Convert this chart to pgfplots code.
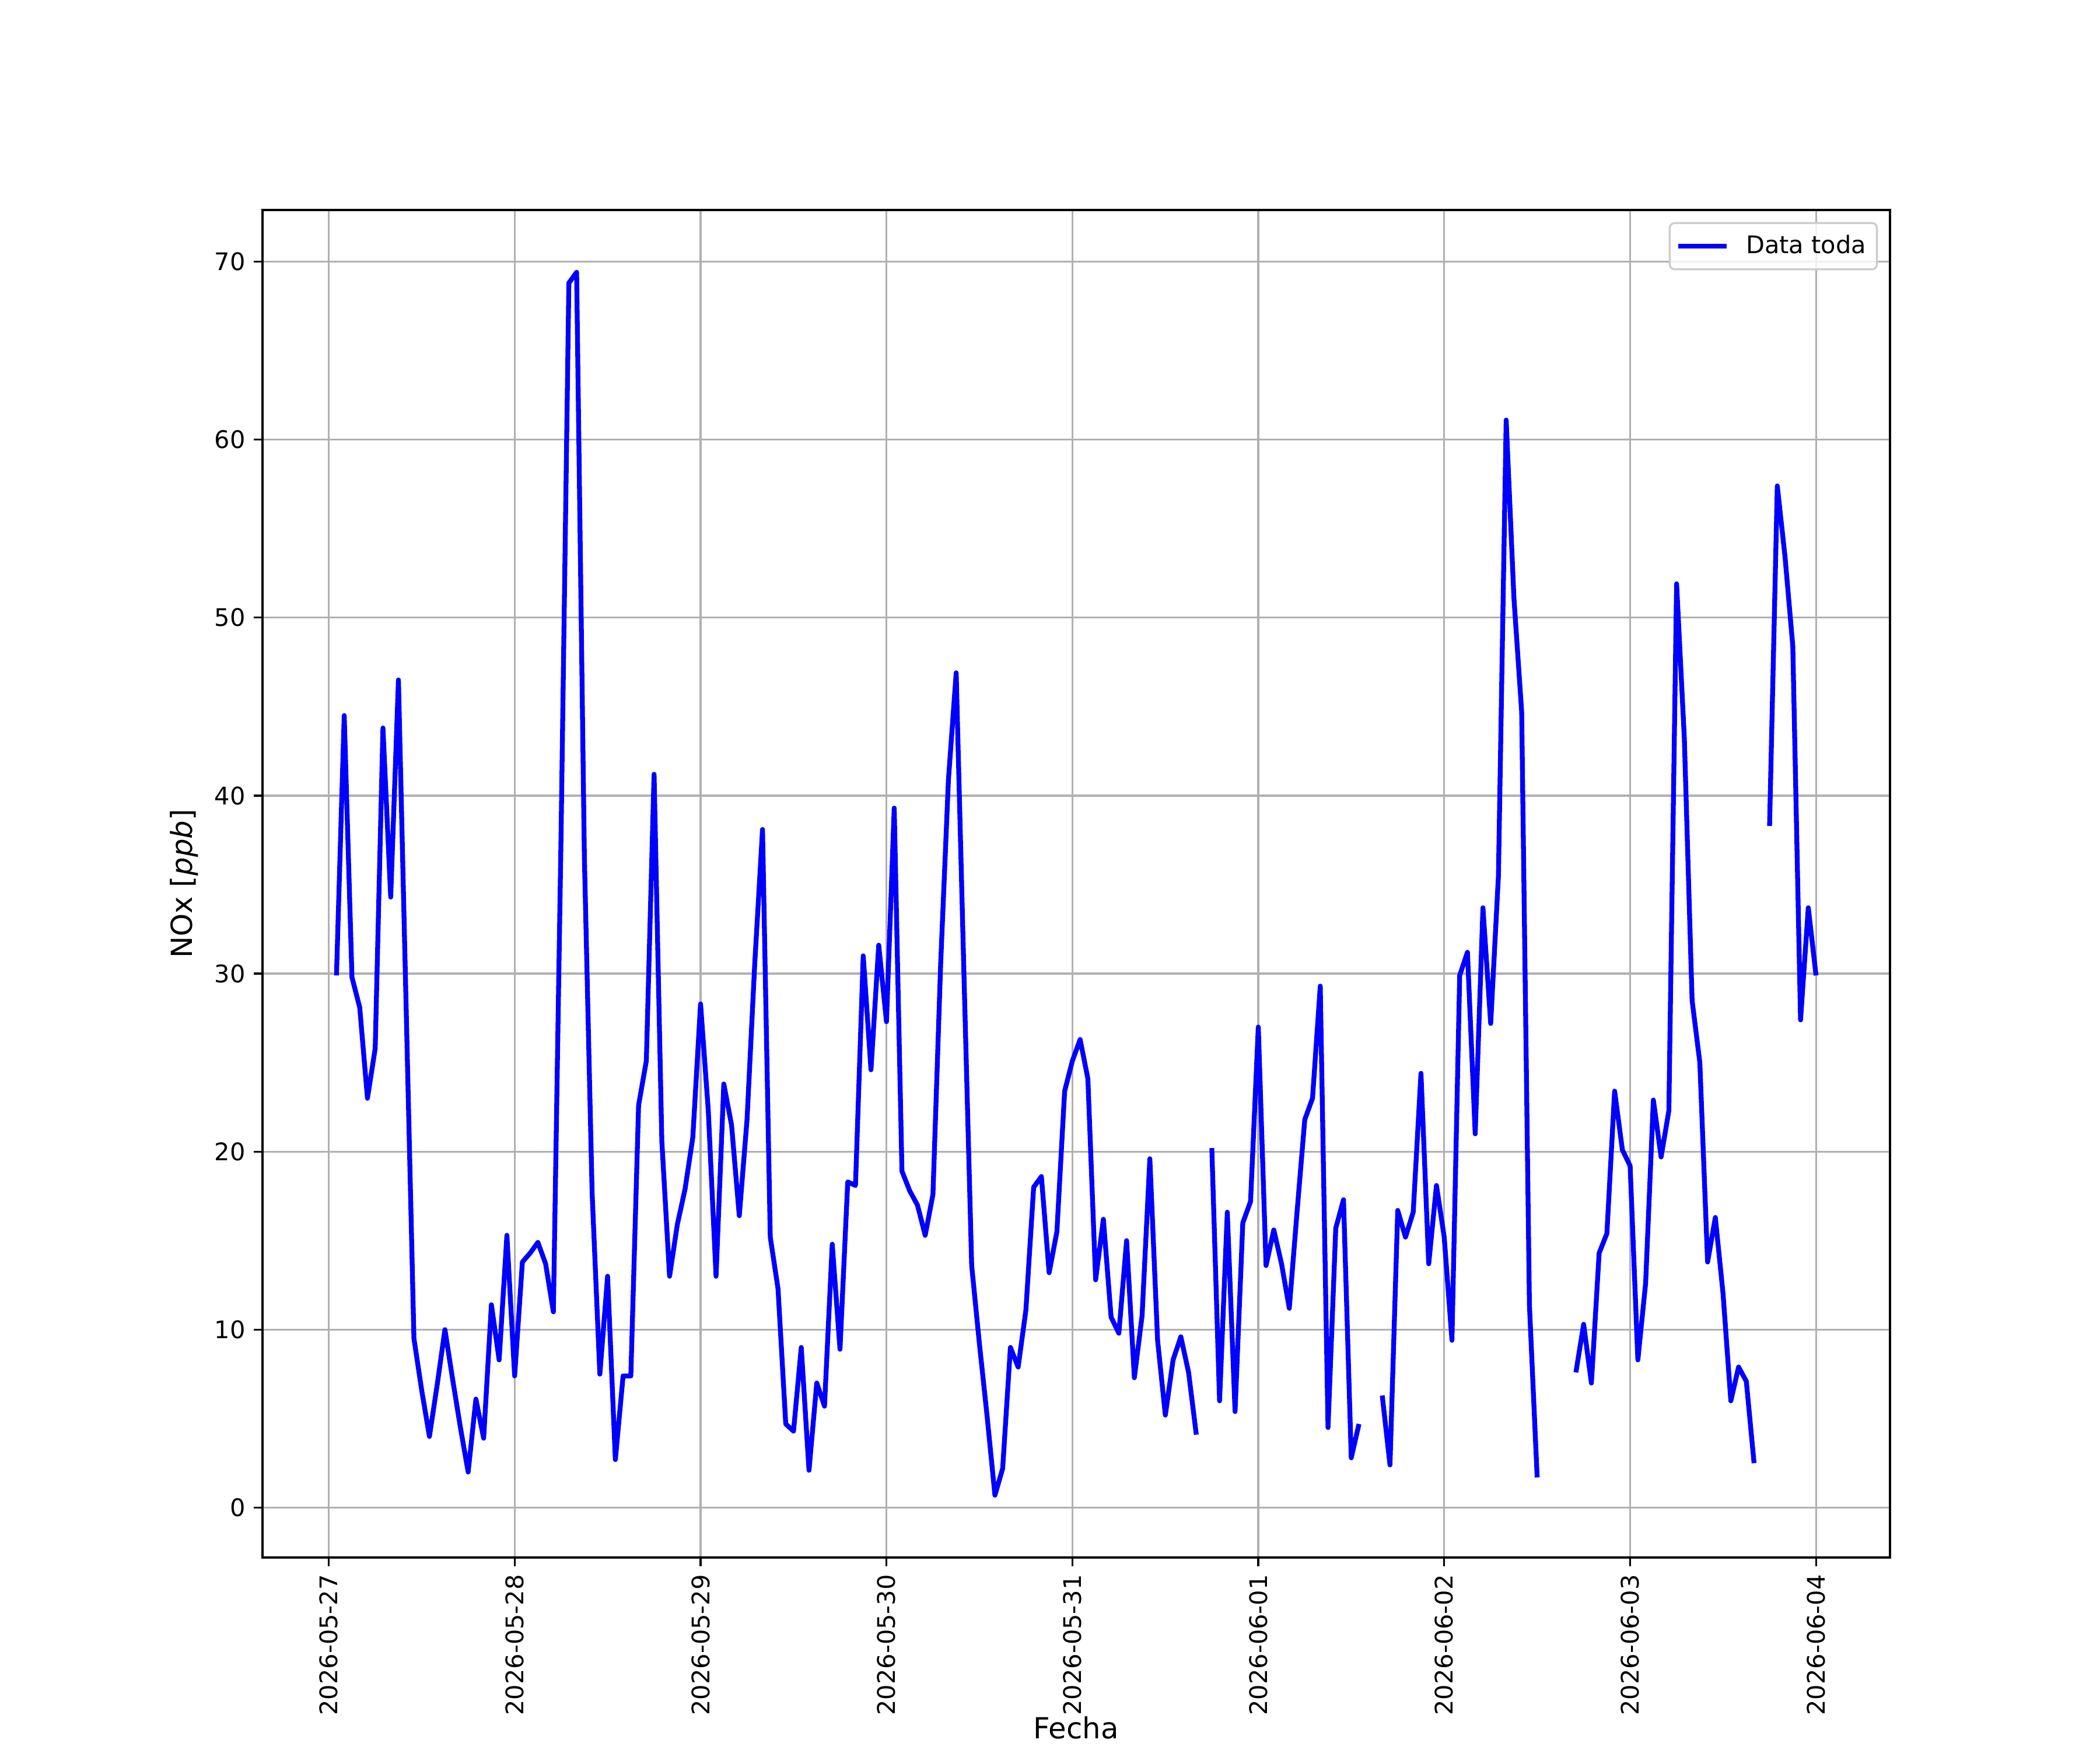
\documentclass[border=0pt]{standalone}
\usepackage{pgfplots}
\pgfplotsset{compat=1.18}
\usepackage{pgfplotstable}
\usepackage{fontspec}
\setmainfont{DejaVu Sans}
\definecolor{gridgray}{HTML}{B0B0B0}
\definecolor{legedge}{HTML}{CCCCCC}
\pgfplotstableread{
h v
1 29.9
2 44.5
3 29.8
4 28.1
5 23.0
6 25.8
7 43.8
8 34.3
9 46.5
10 28.0
11 9.5
12 6.6
13 4.0
14 6.9
15 10.0
16 7.2
17 4.5
18 2.0
19 6.1
20 3.9
21 11.4
22 8.3
23 15.3
24 7.4
25 13.8
26 14.3
27 14.9
28 13.7
29 11.0
30 38.0
31 68.8
32 69.4
33 36.6
34 17.7
35 7.5
36 13.0
37 2.7
38 7.4
39 7.4
40 22.6
41 25.1
42 41.2
43 20.6
44 13.0
45 15.9
46 17.9
47 20.8
48 28.3
49 22.3
50 13.0
51 23.8
52 21.5
53 16.4
54 21.8
55 30.6
56 38.1
57 15.2
58 12.3
59 4.7
60 4.3
61 9.0
62 2.1
63 7.0
64 5.7
65 14.8
66 8.9
67 18.3
68 18.1
69 31.0
70 24.6
71 31.6
72 27.3
73 39.3
74 18.9
75 17.8
76 17.0
77 15.3
78 17.6
79 30.6
80 40.9
81 46.9
82 30.0
83 13.6
84 9.2
85 5.1
86 0.7
87 2.2
88 9.0
89 7.9
90 11.1
91 18.0
92 18.6
93 13.2
94 15.5
95 23.4
96 25.1
97 26.3
98 24.1
99 12.8
100 16.2
101 10.7
102 9.8
103 15.0
104 7.3
105 10.8
106 19.6
107 9.4
108 5.2
109 8.3
110 9.6
111 7.6
112 4.1
113 nan
114 20.2
115 6.0
116 16.6
117 5.4
118 16.0
119 17.2
120 27.0
121 13.6
122 15.6
123 13.7
124 11.2
125 16.6
126 21.8
127 23.0
128 29.3
129 4.5
130 15.7
131 17.3
132 2.8
133 4.7
134 nan
135 nan
136 6.3
137 2.4
138 16.7
139 15.2
140 16.6
141 24.4
142 13.7
143 18.1
144 15.2
145 9.4
146 29.9
147 31.2
148 21.0
149 33.7
150 27.2
151 35.5
152 61.1
153 51.1
154 44.7
155 11.4
156 1.7
157 nan
158 nan
159 nan
160 nan
161 7.6
162 10.3
163 7.0
164 14.3
165 15.4
166 23.4
167 20.1
168 19.2
169 8.3
170 12.6
171 22.9
172 19.7
173 22.3
174 51.9
175 43.2
176 28.5
177 25.0
178 13.8
179 16.3
180 12.0
181 6.0
182 7.9
183 7.1
184 2.5
185 nan
186 38.3
187 57.4
188 53.4
189 48.4
190 27.4
191 33.7
192 29.9
}\datatable
\begin{document}
\begin{tikzpicture}
\useasboundingbox (-1.5in,-1.1in) rectangle (10.5in,8.9in);
\begin{axis}[
  scale only axis,
  width=9.3in, height=7.7in,
  xmin=-8.55, xmax=201.55,
  ymin=-2.8, ymax=72.9,
  xtick={0,24,48,72,96,120,144,168,192},
  xticklabels={2026-05-27,2026-05-28,2026-05-29,2026-05-30,2026-05-31,2026-06-01,2026-06-02,2026-06-03,2026-06-04},
  ytick={0,10,20,30,40,50,60,70},
  x tick label style={rotate=90, anchor=east, font=\fontsize{10}{12}\selectfont},
  y tick label style={font=\fontsize{10}{12}\selectfont},
  /pgf/number format/assume math mode=true,
  tick align=outside,
  major tick length=3.5pt,
  tick style={black, line width=0.8pt},
  xtick pos=bottom, ytick pos=left,
  axis line style={black, line width=0.8pt},
  grid=major,
  major grid style={gridgray, line width=0.8pt},
  xlabel={Fecha},
  ylabel={NOx [\textit{ppb}]},
  label style={font=\fontsize{12}{14}\selectfont},
  xlabel style={yshift=4pt, inner sep=1pt},
  unbounded coords=jump,
  legend style={at={(1,1)}, anchor=north east, xshift=-5pt, yshift=-5pt,
    draw=legedge, line width=0.8pt, rounded corners=2pt, fill=white, fill opacity=0.8, text opacity=1,
    font=\fontsize{10}{12}\selectfont, inner xsep=2.5pt, inner ysep=3pt},
  legend cell align=left,
  legend image code/.code={\draw[#1] (0pt,0pt) -- (20pt,0pt); \path (25pt,0pt);},
]
\addplot[blue, line width=2pt, line join=round] table[x=h, y=v] {\datatable};
\addlegendentry{Data toda}
\end{axis}
\end{tikzpicture}
\end{document}
